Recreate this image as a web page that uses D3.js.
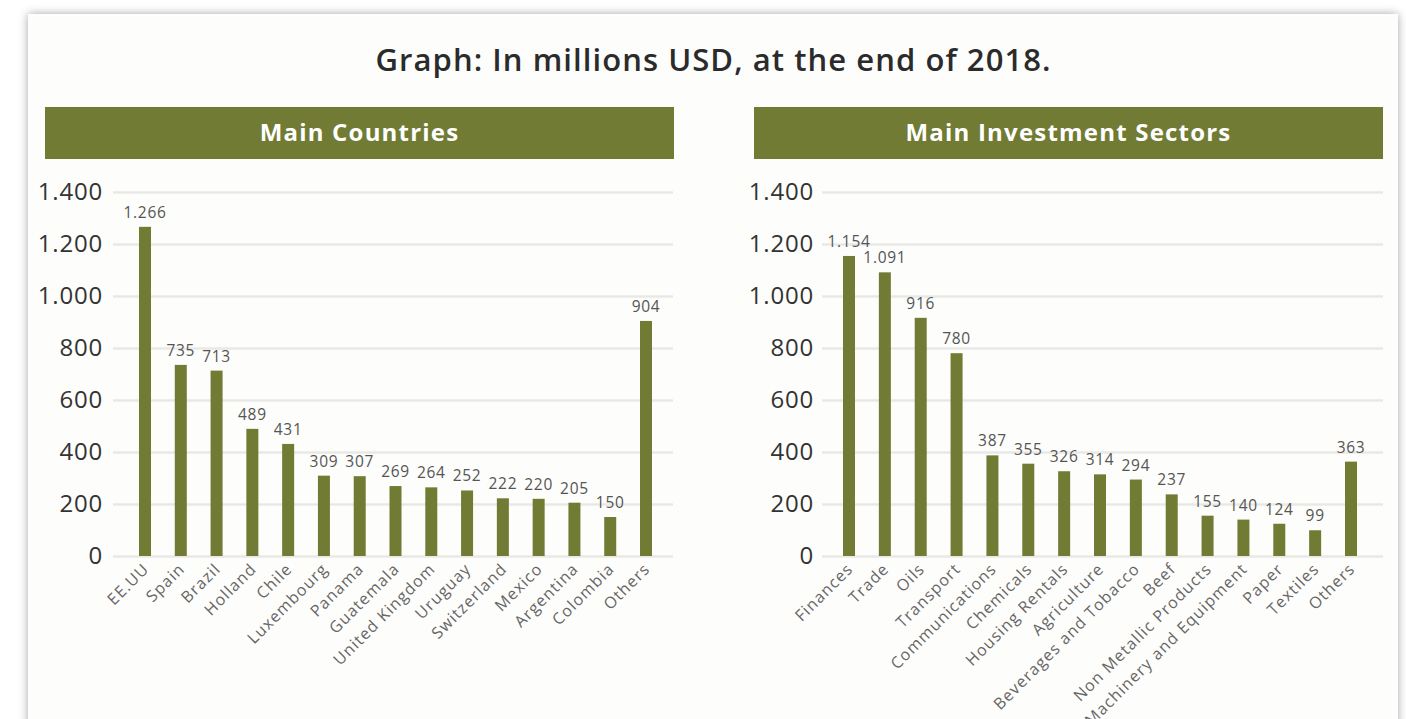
<!DOCTYPE html>
<html>
<head>
<meta charset="utf-8">
<script src="https://cdn.jsdelivr.net/npm/d3@7"></script>
<style>
  body { margin: 0; background: #ffffff; font-family: "Open Sans", sans-serif; }
  #card { position: absolute; left: 28px; top: 14px; width: 1370px; height: 740px;
          background: #fdfdfb; box-shadow: 0 0 9px rgba(0,0,0,0.35); }
  svg { position: absolute; left: 0; top: 0; }
</style>
</head>
<body>
<div id="card"></div>
<svg id="chart" width="1406" height="719"></svg>
<script>
// data
var countries = ['EE.UU', 'Spain', 'Brazil', 'Holland', 'Chile', 'Luxembourg', 'Panama', 'Guatemala',
                 'United Kingdom', 'Uruguay', 'Switzerland', 'Mexico', 'Argentina', 'Colombia', 'Others'];
var countryValues = [1266, 735, 713, 489, 431, 309, 307, 269, 264, 252, 222, 220, 205, 150, 904];

var sectors = ['Finances', 'Trade', 'Oils', 'Transport', 'Communications', 'Chemicals', 'Housing Rentals',
               'Agriculture', 'Beverages and Tobacco', 'Beef', 'Non Metallic Products',
               'Machinery and Equipment', 'Paper', 'Textiles', 'Others'];
var sectorValues = [1154, 1091, 916, 780, 387, 355, 326, 314, 294, 237, 155, 140, 124, 99, 363];

var yTicks = [0, 200, 400, 600, 800, 1000, 1200, 1400];

var green = '#717b34';
var svg = d3.select('#chart');
var fmt = function (v) { return d3.format(',')(v).replace(/,/g, '.'); };

svg.append('text')
    .attr('x', 713).attr('y', 71)
    .attr('text-anchor', 'middle')
    .attr('font-size', 31).attr('font-weight', 600)
    .attr('textLength', 675).attr('lengthAdjust', 'spacing')
    .attr('fill', '#2b2b2b')
    .text('Graph: In millions USD, at the end of 2018.');

function drawPanel(opts) {
    var g = svg.append('g');
    // header band
    g.append('rect')
        .attr('x', opts.bandX).attr('y', 107)
        .attr('width', 629).attr('height', 52)
        .attr('fill', green);
    g.append('text')
        .attr('x', opts.bandX + 629 / 2).attr('y', 141)
        .attr('text-anchor', 'middle')
        .attr('font-size', 24).attr('font-weight', 700)
        .attr('letter-spacing', 1.2)
        .attr('fill', '#ffffff')
        .text(opts.title);

    var y = d3.scaleLinear().domain([0, 1400]).range([556, 192]);
    var x = d3.scalePoint().domain(opts.cats).range([opts.first, opts.last]);

    var yAxis = d3.axisLeft(y).tickValues(yTicks)
        .tickSize(-(opts.gridR - opts.gridL)).tickPadding(10)
        .tickFormat(fmt);
    var ga = g.append('g')
        .attr('transform', 'translate(' + opts.gridL + ',0)')
        .call(yAxis);
    ga.select('.domain').remove();
    ga.selectAll('line').attr('stroke', '#e9e8e6').attr('stroke-width', 2.5);
    ga.selectAll('text')
        .attr('x', -(opts.gridL - opts.labelR))
        .attr('font-size', 24).attr('fill', '#333')
        .attr('letter-spacing', 0.8)
        .attr('font-family', '"Open Sans", sans-serif');

    g.selectAll('rect.bar')
        .data(opts.values)
        .enter().append('rect')
        .attr('class', 'bar')
        .attr('x', function (d, i) { return x(opts.cats[i]) - 6; })
        .attr('y', function (d) { return y(d); })
        .attr('width', 12)
        .attr('height', function (d) { return y(0) - y(d); })
        .attr('fill', green);

    g.selectAll('text.val')
        .data(opts.values)
        .enter().append('text')
        .attr('class', 'val')
        .attr('x', function (d, i) { return x(opts.cats[i]); })
        .attr('y', function (d) { return y(d) - 9; })
        .attr('text-anchor', 'middle')
        .attr('font-size', 15.5).attr('fill', '#555')
        .attr('letter-spacing', 0.7)
        .text(fmt);

    g.selectAll('text.cat')
        .data(opts.cats)
        .enter().append('text')
        .attr('class', 'cat')
        .attr('text-anchor', 'end')
        .attr('transform', function (d) {
            return 'translate(' + (x(d) + 5) + ',570) rotate(-45)';
        })
        .attr('font-size', 16).attr('fill', '#666')
        .attr('letter-spacing', 1.1)
        .text(function (d) { return d; });
}

drawPanel({title: 'Main Countries', bandX: 45, cats: countries, values: countryValues,
           first: 145, last: 646, gridL: 113, gridR: 673, labelR: 103});
drawPanel({title: 'Main Investment Sectors', bandX: 754, cats: sectors, values: sectorValues,
           first: 849, last: 1351, gridL: 822, gridR: 1383, labelR: 814});
</script>
</body>
</html>
